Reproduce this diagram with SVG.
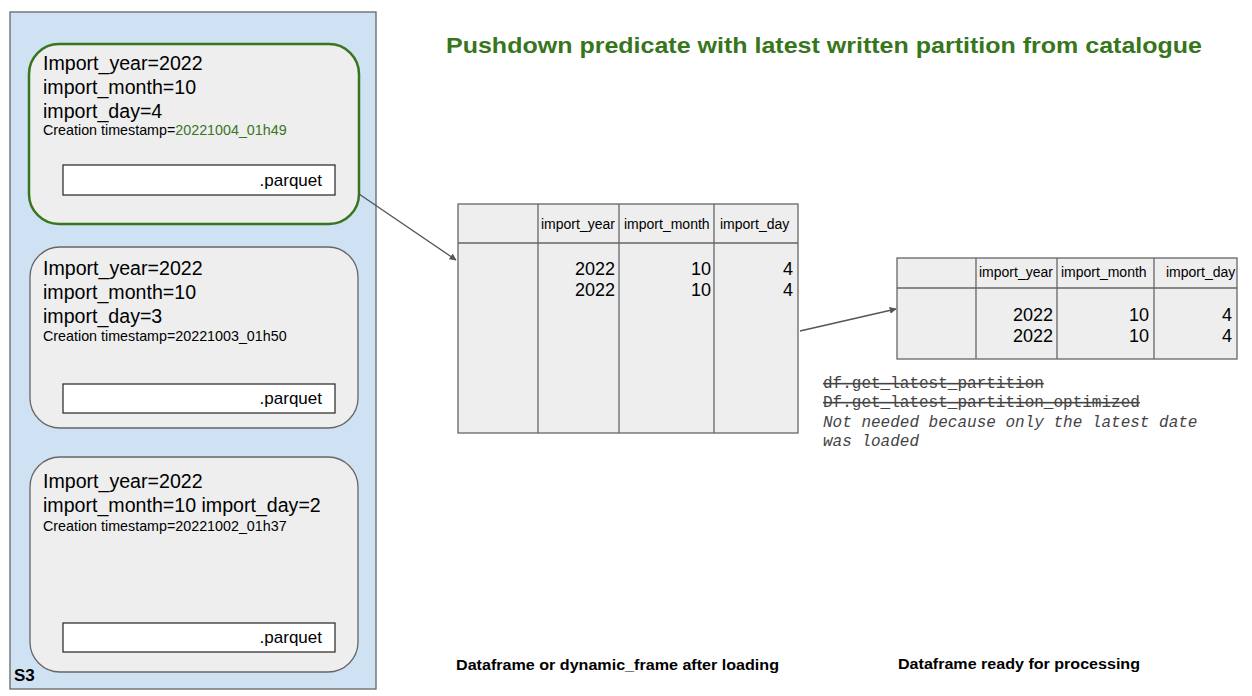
<svg xmlns="http://www.w3.org/2000/svg" width="1252" height="696" viewBox="0 0 1252 696">
<defs>
<style>
.t{font-family:"Liberation Sans",Arial,sans-serif;fill:#000}
.big{font-size:19.6px}
.small{font-size:14.3px}
.pq{font-size:17px;text-anchor:end}
.hd{font-size:14px}
.val{font-size:18px;text-anchor:end}
.part{fill:#eeeeee;stroke:#666666;stroke-width:1.3}
.file{fill:#ffffff;stroke:#333333;stroke-width:1.3}
.tbl{fill:#eeeeee;stroke:#666666;stroke-width:1.3}
.ln{stroke:#666666;stroke-width:1.3;fill:none}
.code{font-family:"Liberation Mono","Courier New",monospace;font-size:16px;fill:#444444}
.lbl{font-family:"Liberation Sans",Arial,sans-serif;font-size:14.5px;font-weight:bold;fill:#000}
</style>
<marker id="arr" viewBox="0 0 10 10" refX="9" refY="5" markerWidth="7" markerHeight="7" markerUnits="userSpaceOnUse" orient="auto">
<path d="M0,0 L10,5 L0,10 Z" fill="#555555"/>
</marker>
</defs>
<rect width="1252" height="696" fill="#ffffff"/>

<g id="s3">
<rect x="10" y="12" width="366" height="677" fill="#cfe2f3" stroke="#666666" stroke-width="1.3"/>
<text class="t" x="14" y="681" font-size="17" font-weight="bold">S3</text>
</g>

<g id="partition1">
<rect x="29" y="44" width="330" height="180" rx="30" ry="30" fill="#eeeeee" stroke="#38761d" stroke-width="2.5"/>
<text class="t big" x="43" y="70">Import_year=2022</text>
<text class="t big" x="43" y="94">import_month=10</text>
<text class="t big" x="43" y="118">import_day=4</text>
<text class="t small" x="43" y="135">Creation timestamp=<tspan fill="#38761d">20221004_01h49</tspan></text>
<rect class="file" x="63" y="165" width="272" height="30"/>
<text class="t pq" x="322" y="186">.parquet</text>
</g>

<g id="partition2">
<rect class="part" x="30" y="247" width="328" height="181" rx="30" ry="30"/>
<text class="t big" x="43" y="275">Import_year=2022</text>
<text class="t big" x="43" y="299">import_month=10</text>
<text class="t big" x="43" y="323">import_day=3</text>
<text class="t small" x="43" y="341">Creation timestamp=20221003_01h50</text>
<rect class="file" x="63" y="384" width="272" height="29"/>
<text class="t pq" x="322" y="404">.parquet</text>
</g>

<g id="partition3">
<rect class="part" x="30" y="457" width="328" height="215" rx="30" ry="30"/>
<text class="t big" x="43" y="488">Import_year=2022</text>
<text class="t big" x="43" y="512">import_month=10 import_day=2</text>
<text class="t small" x="43" y="531">Creation timestamp=20221002_01h37</text>
<rect class="file" x="63" y="623" width="272" height="29"/>
<text class="t pq" x="322" y="643">.parquet</text>
</g>

<g id="title">
<text x="824" y="53" text-anchor="middle" font-family="'Liberation Sans',Arial,sans-serif" font-size="22" font-weight="bold" fill="#38761d" textLength="756" lengthAdjust="spacingAndGlyphs">Pushdown predicate with latest written partition from catalogue</text>
</g>

<g id="table1">
<rect class="tbl" x="458" y="204" width="340" height="229"/>
<line class="ln" x1="458" y1="243" x2="798" y2="243"/>
<line class="ln" x1="538" y1="204" x2="538" y2="433"/>
<line class="ln" x1="619" y1="204" x2="619" y2="433"/>
<line class="ln" x1="714" y1="204" x2="714" y2="433"/>
<text class="t hd" x="541" y="229">import_year</text>
<text class="t hd" x="624" y="229">import_month</text>
<text class="t hd" x="720" y="229">import_day</text>
<text class="t val" x="615" y="275">2022</text>
<text class="t val" x="711" y="275">10</text>
<text class="t val" x="793" y="275">4</text>
<text class="t val" x="615" y="296">2022</text>
<text class="t val" x="711" y="296">10</text>
<text class="t val" x="793" y="296">4</text>
</g>

<g id="table2">
<rect class="tbl" x="897" y="258" width="340" height="101"/>
<line class="ln" x1="897" y1="288" x2="1237" y2="288"/>
<line class="ln" x1="976" y1="258" x2="976" y2="359"/>
<line class="ln" x1="1057" y1="258" x2="1057" y2="359"/>
<line class="ln" x1="1154" y1="258" x2="1154" y2="359"/>
<text class="t hd" x="979" y="277">import_year</text>
<text class="t hd" x="1061" y="277">import_month</text>
<text class="t hd" x="1166" y="277">import_day</text>
<text class="t val" x="1053" y="321">2022</text>
<text class="t val" x="1149" y="321">10</text>
<text class="t val" x="1232" y="321">4</text>
<text class="t val" x="1053" y="342">2022</text>
<text class="t val" x="1149" y="342">10</text>
<text class="t val" x="1232" y="342">4</text>
</g>

<g id="note">
<text class="code" x="823" y="388" text-decoration="line-through">df.get_latest_partition</text>
<text class="code" x="823" y="407" text-decoration="line-through">Df.get_latest_partition_optimized</text>
<text class="code" x="823" y="427" font-style="italic">Not needed because only the latest date</text>
<text class="code" x="823" y="446" font-style="italic">was loaded</text>
</g>

<g id="labels">
<text class="lbl" x="456" y="670" textLength="323" lengthAdjust="spacingAndGlyphs">Dataframe or dynamic_frame after loading</text>
<text class="lbl" x="898" y="669" textLength="242" lengthAdjust="spacingAndGlyphs">Dataframe ready for processing</text>
</g>

<g id="connectors">
<line x1="359" y1="194" x2="456" y2="260" stroke="#555555" stroke-width="1.3" marker-end="url(#arr)"/>
<line x1="800" y1="331" x2="896" y2="309" stroke="#555555" stroke-width="1.3" marker-end="url(#arr)"/>
</g>
</svg>
